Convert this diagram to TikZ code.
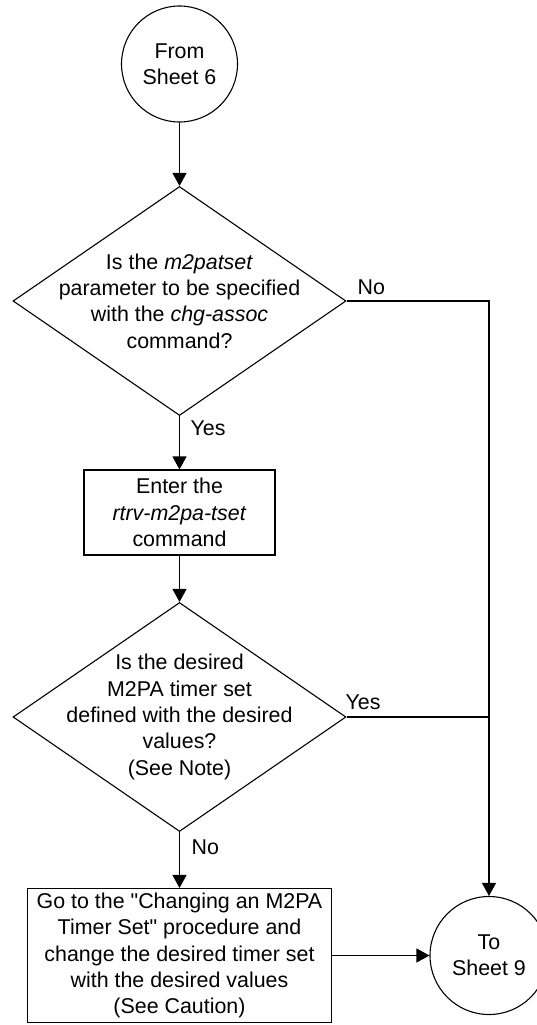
\documentclass[tikz,border=0pt]{standalone}
\usepackage{fontspec}
\setmainfont{Liberation Sans}[Ligatures=TeXOff]
\usetikzlibrary{arrows.meta, shapes.geometric}

\begin{document}
\begin{tikzpicture}[x=1pt, y=-1pt, line width=1.1pt,
    every node/.style={font=\fontsize{21.4pt}{26.4pt}\selectfont},
    flow/.style={-{Triangle[width=14pt,length=13pt]}},
    sheet/.style={draw, circle, inner sep=0pt, align=center},
    decision/.style={draw, diamond, inner sep=0pt, minimum width=333pt, minimum height=229pt},
    process/.style={draw, rectangle, inner sep=0pt, align=center},
    txt/.style={inner sep=0pt, align=center},
    answer/.style={inner sep=0pt, anchor=base west}]
    \useasboundingbox (0,0) rectangle (537,1025);

    % Off-page connectors
    \node[sheet, minimum size=116pt] (from6) at (179.5,64) {From\\Sheet 6};
    \node[sheet, minimum size=118pt] (to9) at (489,955.5) {To\\Sheet 9};

    % Steps and decisions
    \node[decision] (q1) at (179.5,301) {};
    \node[txt] (q1txt) at (q1) {Is the \textit{m2patset}\\parameter to be specified\\with the \textit{chg-assoc}\\command?};
    \node[process, minimum width=191pt, minimum height=85pt] (enter) at (179.5,512.5) {Enter the\\\textit{rtrv-m2pa-tset}\\command};
    \node[decision] (q2) at (179.5,717) {};
    \node[txt] (q2txt) at (q2) {Is the desired\\M2PA timer set\\defined with the desired\\values?\\(See Note)};
    \node[process, minimum width=304pt, minimum height=134pt] (goto) at (179.5,955.5) {Go to the "Changing an M2PA\\Timer Set" procedure and\\change the desired timer set\\with the desired values\\(See Caution)};

    % Answers
    \node[answer] (no1) at (357,294) {No};
    \node[answer] (yes1) at (190,435) {Yes};
    \node[answer] (yes2) at (345,709) {Yes};
    \node[answer] (no2) at (191,854) {No};

    \draw[flow] (from6.south) -- (q1.north);
    \draw[flow] (q1.south) -- (enter.north);
    \draw[flow] (enter.south) -- (q2.north);
    \draw[flow] (q2.south) -- (goto.north);
    \draw[flow] (q1.east) -| (to9.north);
    \draw (q2.east) -- (q2.east -| to9.north);
    \draw[flow] (goto.east) -- (to9.west);
\end{tikzpicture}
\end{document}
